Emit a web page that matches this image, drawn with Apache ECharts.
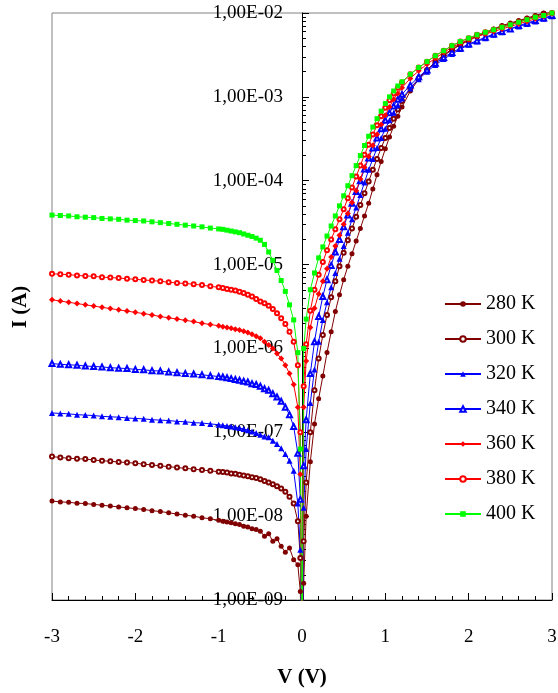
<!DOCTYPE html>
<html>
<head>
<meta charset="utf-8">
<script src="https://cdn.jsdelivr.net/npm/echarts@6/dist/echarts.min.js"></script>
<style>
  html, body { margin: 0; padding: 0; background: #fff; }
  #chart { width: 558px; height: 693px; }
</style>
</head>
<body>
<div id="chart"></div>
<script>
// bias voltage (V)
const volts = [
  -3.0, -2.9, -2.8, -2.7, -2.6, -2.5, -2.4, -2.3, -2.2, -2.1, -2.0, -1.9, -1.8, -1.7, -1.6, -1.5, -1.4, -1.3, -1.2, -1.1, -1.0,
  -0.95, -0.9, -0.85, -0.8, -0.75, -0.7, -0.65, -0.6, -0.55, -0.5, -0.45, -0.4, -0.35, -0.3, -0.25, -0.2, -0.15, -0.1, -0.05,
  -0.02, 0, 0.02, 0.05,
  0.1, 0.15, 0.2, 0.25, 0.3, 0.35, 0.4, 0.45, 0.5, 0.55, 0.6, 0.65, 0.7, 0.75, 0.8, 0.85, 0.9, 0.95, 1.0, 1.05, 1.1, 1.15, 1.2,
  1.3, 1.4, 1.5, 1.6, 1.7, 1.8, 1.9, 2.0, 2.1, 2.2, 2.3, 2.4, 2.5, 2.6, 2.7, 2.8, 2.9, 3.0
];

const temps = ['280 K', '300 K', '320 K', '340 K', '360 K', '380 K', '400 K'];

// log10 of current (A)
const i280 = [
  -7.82, -7.83, -7.835, -7.845, -7.85, -7.86, -7.87, -7.88, -7.89, -7.90, -7.91, -7.92, -7.935, -7.945, -7.96, -7.975, -7.99, -8.00, -8.02, -8.03, -8.05,
  -8.06, -8.07, -8.08, -8.09, -8.10, -8.12, -8.13, -8.15, -8.16, -8.18, -8.24, -8.21, -8.30, -8.27, -8.36, -8.43, -8.38, -8.52, -8.58,
  -8.9, -10, -8.8, -8.0,
  -7.35, -6.9, -6.6, -6.33, -6.05, -5.80, -5.56, -5.36, -5.18, -5.02, -4.87, -4.72, -4.57, -4.42, -4.27, -4.10, -3.93, -3.77, -3.62, -3.48, -3.35, -3.23, -3.12,
  -2.93, -2.79, -2.68, -2.58, -2.50, -2.43, -2.37, -2.32, -2.27, -2.23, -2.19, -2.15, -2.12, -2.09, -2.06, -2.03, -2.0, -1.98
];
const i300 = [
  -7.29, -7.30, -7.31, -7.315, -7.32, -7.33, -7.34, -7.345, -7.355, -7.36, -7.37, -7.38, -7.39, -7.40, -7.41, -7.42, -7.43, -7.44, -7.45, -7.46, -7.47,
  -7.475, -7.48, -7.49, -7.495, -7.505, -7.515, -7.525, -7.535, -7.545, -7.56, -7.58, -7.60, -7.62, -7.645, -7.67, -7.71, -7.77, -7.85, -8.06,
  -8.5, -10, -8.3, -7.6,
  -7.0, -6.5, -6.12, -5.84, -5.60, -5.39, -5.20, -5.02, -4.86, -4.71, -4.57, -4.43, -4.29, -4.15, -4.01, -3.87, -3.74, -3.61, -3.49, -3.37, -3.26, -3.15, -3.05,
  -2.90, -2.78, -2.68, -2.59, -2.51, -2.44, -2.38, -2.33, -2.28, -2.24, -2.20, -2.16, -2.13, -2.10, -2.07, -2.04, -2.01, -1.99
];
const i320 = [
  -6.77, -6.775, -6.78, -6.79, -6.795, -6.80, -6.81, -6.815, -6.82, -6.83, -6.835, -6.84, -6.85, -6.855, -6.86, -6.87, -6.875, -6.885, -6.89, -6.90, -6.91,
  -6.915, -6.925, -6.93, -6.94, -6.95, -6.96, -6.975, -6.99, -7.01, -7.03, -7.05, -7.06, -7.10, -7.14, -7.19, -7.26, -7.34, -7.46, -7.85,
  -8.4, -10, -7.9, -7.2,
  -6.65, -6.25, -5.92, -5.66, -5.45, -5.27, -5.10, -4.93, -4.78, -4.62, -4.46, -4.32, -4.17, -4.02, -3.87, -3.74, -3.61, -3.49, -3.38, -3.28, -3.19, -3.10, -3.02,
  -2.90, -2.79, -2.70, -2.62, -2.55, -2.49, -2.43, -2.38, -2.34, -2.30, -2.26, -2.23, -2.19, -2.16, -2.13, -2.10, -2.07, -2.04
];
const i340 = [
  -6.18, -6.19, -6.195, -6.20, -6.21, -6.215, -6.22, -6.23, -6.235, -6.24, -6.25, -6.255, -6.265, -6.27, -6.28, -6.29, -6.30, -6.305, -6.315, -6.325, -6.335,
  -6.34, -6.35, -6.36, -6.37, -6.38, -6.39, -6.40, -6.42, -6.43, -6.45, -6.48, -6.50, -6.54, -6.58, -6.63, -6.70, -6.79, -6.93, -7.25,
  -7.8, -10, -7.4, -6.85,
  -6.3, -5.92, -5.62, -5.38, -5.18, -5.01, -4.85, -4.70, -4.55, -4.41, -4.27, -4.13, -4.0, -3.86, -3.73, -3.61, -3.49, -3.38, -3.28, -3.19, -3.11, -3.03, -2.97,
  -2.86, -2.76, -2.68, -2.60, -2.53, -2.47, -2.42, -2.37, -2.33, -2.29, -2.25, -2.22, -2.19, -2.15, -2.12, -2.09, -2.06, -2.03
];
const i360 = [
  -5.42, -5.435, -5.45, -5.465, -5.48, -5.495, -5.51, -5.525, -5.54, -5.555, -5.57, -5.585, -5.60, -5.62, -5.635, -5.65, -5.665, -5.68, -5.70, -5.715, -5.73,
  -5.74, -5.75, -5.76, -5.77, -5.78, -5.795, -5.81, -5.83, -5.855, -5.88, -5.92, -5.96, -6.0, -6.06, -6.12, -6.20, -6.30, -6.43, -6.7,
  -7.5, -10, -6.7, -6.15,
  -5.75, -5.52, -5.35, -5.20, -5.05, -4.91, -4.78, -4.65, -4.52, -4.39, -4.26, -4.12, -3.98, -3.84, -3.71, -3.58, -3.45, -3.33, -3.22, -3.12, -3.03, -2.96, -2.89,
  -2.78, -2.69, -2.61, -2.54, -2.47, -2.41, -2.36, -2.32, -2.28, -2.25, -2.22, -2.19, -2.16, -2.13, -2.10, -2.07, -2.04, -2.01
];
const i380 = [
  -5.11, -5.115, -5.12, -5.13, -5.135, -5.14, -5.15, -5.155, -5.16, -5.17, -5.175, -5.185, -5.19, -5.20, -5.21, -5.22, -5.225, -5.235, -5.245, -5.26, -5.27,
  -5.28, -5.29, -5.30, -5.31, -5.325, -5.34, -5.36, -5.38, -5.41, -5.44, -5.46, -5.49, -5.53, -5.58, -5.64, -5.71, -5.80, -5.92, -6.2,
  -7.0, -10, -6.45, -5.95,
  -5.55, -5.30, -5.12, -4.97, -4.83, -4.70, -4.58, -4.46, -4.34, -4.21, -4.08, -3.95, -3.82, -3.69, -3.57, -3.45, -3.34, -3.23, -3.13, -3.04, -2.96, -2.89, -2.83,
  -2.73, -2.65, -2.58, -2.51, -2.45, -2.39, -2.34, -2.30, -2.26, -2.23, -2.20, -2.17, -2.14, -2.11, -2.08, -2.05, -2.03, -2.00
];
const i400 = [
  -4.41, -4.415, -4.42, -4.43, -4.435, -4.44, -4.45, -4.455, -4.46, -4.47, -4.475, -4.48, -4.49, -4.50, -4.51, -4.52, -4.53, -4.54, -4.55, -4.565, -4.575,
  -4.58, -4.59, -4.60, -4.61, -4.62, -4.635, -4.65, -4.665, -4.685, -4.71, -4.76, -4.85, -4.95, -5.07, -5.19, -5.32, -5.48, -5.66, -6.05,
  -7.2, -10, -6.0, -5.65,
  -5.30, -5.10, -4.92, -4.79, -4.66, -4.54, -4.42, -4.30, -4.18, -4.06, -3.94, -3.82, -3.70, -3.58, -3.47, -3.36, -3.26, -3.17, -3.08, -3.0, -2.93, -2.87, -2.82,
  -2.73, -2.65, -2.58, -2.51, -2.45, -2.39, -2.34, -2.30, -2.26, -2.23, -2.20, -2.17, -2.14, -2.11, -2.08, -2.05, -2.03, -2.00
];
const curves = [i280, i300, i320, i340, i360, i380, i400];

const yTickLabels = ['1,00E-09', '1,00E-08', '1,00E-07', '1,00E-06', '1,00E-05', '1,00E-04', '1,00E-03', '1,00E-02'];

const font = 'Liberation Serif';
const colors = ['#800000', '#800000', '#0000ff', '#0000ff', '#ff0000', '#ff0000', '#00ff00'];
const symbols = ['circle', 'emptyCircle', 'triangle', 'emptyTriangle', 'diamond', 'emptyCircle', 'rect'];
const symbolSizes = [5, 4, 6, 5, 6, 4, 5];

// minor ticks at 2..9 x 10^n, as exponents (drawn on a linear exponent axis)
const minorTickExp = [];
for (let e = -9; e < -2; e++) {
  for (let m = 2; m <= 9; m++) minorTickExp.push(Math.log10(m) + e);
}

// main plot box; the visible y axis sits at V = 0, i.e. the middle of the box
const box = { left: 52, right: 6, top: 13, bottom: 93 };
const plotW = 558 - box.left - box.right;
const halfBox = { left: box.left + plotW / 2, right: box.right, top: box.top, bottom: box.bottom };

const chart = echarts.init(document.getElementById('chart'));

const hiddenX = { type: 'value', min: 0, max: 1, show: false };

chart.setOption({
  animation: false,
  grid: [
    Object.assign({ show: true, borderColor: '#808080', borderWidth: 1, containLabel: false, outerBoundsMode: 'none' }, box),
    Object.assign({ containLabel: false, outerBoundsMode: 'none' }, halfBox),
    Object.assign({ containLabel: false, outerBoundsMode: 'none' }, halfBox)
  ],
  legend: {
    orient: 'vertical',
    left: 439, top: 289,
    itemWidth: 36, itemHeight: 7, itemGap: 15,
    textStyle: { fontFamily: font, fontSize: 20, color: '#000', lineHeight: 20 },
    data: temps
  },
  xAxis: [{
    gridIndex: 0,
    type: 'value', min: -3, max: 3, interval: 1,
    axisLine: { onZero: false, lineStyle: { color: '#000', width: 1 } },
    axisTick: { inside: true, length: 7, lineStyle: { color: '#000' } },
    minorTick: { show: true, splitNumber: 5, length: 4, lineStyle: { color: '#000' } },
    axisLabel: { margin: 28, fontFamily: font, fontSize: 19, color: '#000' },
    splitLine: { show: false },
    name: 'V (V)', nameLocation: 'middle', nameGap: 67,
    nameTextStyle: { fontFamily: font, fontSize: 21, fontWeight: 'bold', color: '#000' }
  },
  Object.assign({ gridIndex: 1 }, hiddenX),
  Object.assign({ gridIndex: 2 }, hiddenX)],
  yAxis: [{
    // data axis, not drawn
    gridIndex: 0, type: 'log', logBase: 10, min: 1e-9, max: 1e-2, show: false
  }, {
    // visible axis at V = 0
    gridIndex: 1, type: 'log', logBase: 10, min: 1e-9, max: 1e-2, splitNumber: 7, position: 'left',
    axisLine: { show: true, onZero: false, lineStyle: { color: '#000', width: 1 } },
    axisTick: { show: true, inside: true, length: 7, lineStyle: { color: '#000' } },
    axisLabel: {
      margin: 19, fontFamily: font, fontSize: 19, color: '#000',
      formatter: v => yTickLabels[Math.round(Math.log10(v)) + 9]
    },
    splitLine: { show: false }
  }, {
    // minor ticks at V = 0
    gridIndex: 2, type: 'value', min: -9, max: -2, position: 'left',
    axisLine: { show: false, onZero: false },
    axisTick: { show: true, inside: true, length: 4, customValues: minorTickExp, lineStyle: { color: '#000' } },
    axisLabel: { show: false },
    splitLine: { show: false }
  }],
  graphic: [{
    type: 'text', x: 21, y: 307, rotation: Math.PI / 2,
    style: { text: 'I (A)', font: 'bold 21px "Liberation Serif"', fill: '#000', align: 'center', verticalAlign: 'middle' }
  }],
  series: temps.map((t, k) => ({
    name: t,
    type: 'line',
    xAxisIndex: 0, yAxisIndex: 0,
    data: volts.map((v, i) => [v, Math.pow(10, curves[k][i])]),
    symbol: symbols[k],
    symbolSize: symbolSizes[k],
    showAllSymbol: true,
    clip: true,
    lineStyle: { width: 1, color: colors[k] },
    itemStyle: { color: colors[k] }
  }))
});
</script>
</body>
</html>
